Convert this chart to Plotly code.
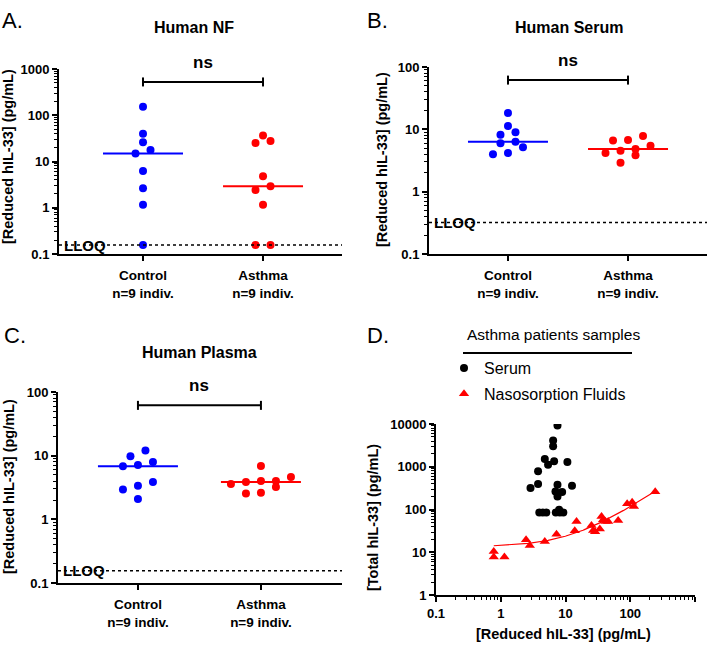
import numpy as np
import plotly.graph_objects as go

W, H = 709, 646
FONT = "Liberation Sans, Arial, sans-serif"
BLUE = "#0000FF"
RED = "#FF0000"

# ---------------- data ----------------
categories = ["Control", "Asthma"]
n_labels = ["n=9 indiv.", "n=9 indiv."]
panel_titles = ["Human NF", "Human Serum", "Human Plasma"]
panel_letters = ["A.", "B.", "C.", "D."]
sig_label = "ns"
lloq_label = "LLOQ"

ticks_nf = [0.1, 1, 10, 100, 1000]
ticks_nf_text = ["0.1", "1", "10", "100", "1000"]
ticks_100 = [0.1, 1, 10, 100]
ticks_100_text = ["0.1", "1", "10", "100"]
ticks_d_x = [0.1, 1, 10, 100, 1000]
ticks_d_x_text = ["0.1", "1", "10", "100", "1000"]
ticks_d_y = [1, 10, 100, 1000, 10000]
ticks_d_y_text = ["1", "10", "100", "1000", "10000"]

nf_control = [153, 40, 26, 17.8, 14.9, 6.2, 2.64, 1.16, 0.156]
nf_asthma = [36.7, 27.7, 25, 4.77, 2.91, 2.43, 1.16, 0.156, 0.156]
serum_control = [18.3, 11.3, 8.95, 8.2, 6.3, 5.96, 5.14, 4.17, 3.98]
serum_asthma = [7.8, 6.74, 6.6, 5.47, 4.83, 4.55, 4.17, 3.83, 2.92]
plasma_control = [12.1, 9.8, 7.95, 7.13, 6.8, 3.85, 3.37, 2.95, 2.08]
plasma_asthma = [6.88, 4.62, 3.99, 3.99, 3.85, 3.58, 3.21, 2.61, 2.55]

lloq_nf = 0.156
lloq_serum = 0.32
lloq_plasma = 0.156

# Panel D: asthma patients, reduced vs total hIL-33
d_legend_title = "Asthma patients samples"
d_serum_name = "Serum"
d_naso_name = "Nasosorption Fluids"
d_serum_reduced = [7.52, 6.44, 6.44, 4.79, 6.67, 5.38, 10.7, 3.77, 3.77, 2.88, 12.6,
                   7.52, 7.0, 8.87, 7.52, 7.97, 3.94, 4.46, 5.05, 7.08, 8.17, 9.25]
d_serum_total = [9230, 4110, 3020, 1530, 1345, 1125, 1303, 785, 398, 321, 363,
                 383, 267, 258, 204, 99.5, 86, 86, 86, 86, 86, 86]
d_naso_reduced = [0.78, 0.78, 1.14, 2.46, 2.81, 4.79, 7.26, 14.8, 13.9, 25.2, 26.7,
                  28.7, 33.9, 36, 38.1, 41.5, 45.6, 65, 89.6, 107, 114, 243]
d_naso_total = [10.5, 7.8, 7.8, 19.7, 14.5, 18, 26.8, 53, 32, 42.7, 32.6,
                30.4, 35.2, 69, 58, 53, 53, 55.8, 137, 148, 119, 262]

y_title_reduced = "[Reduced hIL-33] (pg/mL)"
y_title_total = "[Total hIL-33] (pg/mL)"

# ---------------- layout geometry (pixels) ----------------
def xdom(a, b):
    return [a / W, b / W]

def ydom(top, bottom):
    return [1 - bottom / H, 1 - top / H]

panels = [
    dict(ax="", xd=(59, 342), yd=(69, 254), xr=(-0.70, 1.658), yr=(-1, 3),
         ctrl=nf_control, asth=nf_asthma, lloq=lloq_nf, ticks=(ticks_nf, ticks_nf_text)),
    dict(ax="2", xd=(429, 707), yd=(67, 254), xr=(-0.658, 1.658), yr=(-1, 2),
         ctrl=serum_control, asth=serum_asthma, lloq=lloq_serum, ticks=(ticks_100, ticks_100_text)),
    dict(ax="3", xd=(58, 342), yd=(392, 583), xr=(-0.65, 1.659), yr=(-1, 2),
         ctrl=plasma_control, asth=plasma_asthma, lloq=lloq_plasma, ticks=(ticks_100, ticks_100_text)),
]


def swarm_offsets(vals, px_per_decade, px_per_unit, row_px=7.5, step_px=15.0):
    v = np.asarray(vals, float)
    pos = np.log10(v) * px_per_decade
    order = np.argsort(pos, kind="stable")
    rows, cur = [], []
    for i in order:
        if cur and pos[i] - pos[cur[0]] > row_px:
            rows.append(cur)
            cur = []
        cur.append(i)
    rows.append(cur)
    off = np.zeros(len(v))
    for row in rows:
        n = len(row)
        for k, i in enumerate(row):
            off[i] = (k - (n - 1) / 2) * step_px / px_per_unit
    return off


def minor_log(lo, hi):
    out = []
    for e in range(lo, hi):
        for k in range(2, 10):
            out.append(k * 10.0 ** e)
    return out


fig = go.Figure()
shapes = []
annotations = []

bold_tick = dict(family=FONT, size=13, color="black", weight="bold")
bold_cat = dict(family=FONT, size=13.5, color="black", weight="bold")

for p, title in zip(panels, panel_titles):
    ax = p["ax"]
    xa, ya = "x" + ax, "y" + ax
    wpx = p["xd"][1] - p["xd"][0]
    hpx = p["yd"][1] - p["yd"][0]
    ppu = wpx / (p["xr"][1] - p["xr"][0])
    ppd = hpx / (p["yr"][1] - p["yr"][0])
    for ci, (vals, col) in enumerate([(p["ctrl"], BLUE), (p["asth"], RED)]):
        off = swarm_offsets(vals, ppd, ppu)
        fig.add_trace(go.Scatter(
            x=ci + off, y=vals, mode="markers", xaxis=xa, yaxis=ya, showlegend=False,
            marker=dict(symbol="circle", size=8, color=col, line=dict(width=0))))
        med = float(np.median(vals))
        half = 40 / ppu
        fig.add_trace(go.Scatter(
            x=[ci - half, ci + half], y=[med, med], mode="lines", xaxis=xa, yaxis=ya,
            showlegend=False, line=dict(color=col, width=2)))

    axis_key = "xaxis" + ax
    yaxis_key = "yaxis" + ax
    tv, tt = p["ticks"]
    fig.update_layout(**{
        axis_key: dict(domain=xdom(*p["xd"]), range=list(p["xr"]), anchor=ya, automargin=False,
                       tickmode="array", tickvals=[0, 1],
                       ticktext=[f"{c}<br>{n}" for c, n in zip(categories, n_labels)],
                       ticks="outside", ticklen=5, tickwidth=2, tickcolor="black",
                       ticklabelstandoff=3,
                       showline=True, linewidth=2, linecolor="black",
                       showgrid=False, zeroline=False, tickfont=bold_cat),
        yaxis_key: dict(domain=ydom(*p["yd"]), type="log", range=list(p["yr"]), anchor=xa,
                        automargin=False,
                        tickmode="array", tickvals=tv, ticktext=tt,
                        ticks="outside", ticklen=5, tickwidth=2, tickcolor="black",
                        minor=dict(tickmode="array",
                                   tickvals=minor_log(p["yr"][0], p["yr"][1]),
                                   ticks="outside", ticklen=3, tickwidth=1.2,
                                   tickcolor="black", showgrid=False),
                        showline=True, linewidth=2, linecolor="black",
                        showgrid=False, zeroline=False, tickfont=bold_tick),
    })

    # LLOQ line and label
    shapes.append(dict(type="line", xref=xa + " domain", yref=ya, x0=0, x1=1,
                       y0=p["lloq"], y1=p["lloq"], layer="above",
                       line=dict(color="black", width=1.5, dash="dot")))
    annotations.append(dict(xref=xa + " domain", yref=ya, x=0, y=np.log10(p["lloq"]),
                            xanchor="left", yanchor="middle", xshift=3, showarrow=False,
                            text=lloq_label,
                            font=dict(family=FONT, size=15, color="black", weight="bold")))
    # significance bracket
    yb, cap = 0.93, 4.5 / hpx
    shapes.append(dict(type="line", xref=xa, yref=ya + " domain", x0=0, x1=1, y0=yb, y1=yb,
                       line=dict(color="black", width=2)))
    for xx in (0, 1):
        shapes.append(dict(type="line", xref=xa, yref=ya + " domain", x0=xx, x1=xx,
                           y0=yb - cap, y1=yb + cap, line=dict(color="black", width=2)))
    annotations.append(dict(xref=xa, yref=ya + " domain", x=0.5, y=1.035, showarrow=False,
                            xanchor="center", yanchor="middle", text=sig_label,
                            font=dict(family=FONT, size=17, color="black", weight="bold")))

# panel titles / axis titles for A-C
title_pos = [(194, 27), (569, 27), (199, 352)]
ytitle_pos = [(8, 157), (382, 160), (9, 487)]
for t, (tx, ty), (yx, yy) in zip(panel_titles, title_pos, ytitle_pos):
    annotations.append(dict(xref="paper", yref="paper", x=tx / W, y=1 - ty / H, showarrow=False,
                            xanchor="center", yanchor="middle", text=t,
                            font=dict(family=FONT, size=16, color="black", weight="bold")))
    annotations.append(dict(xref="paper", yref="paper", x=yx / W, y=1 - yy / H, showarrow=False,
                            xanchor="center", yanchor="middle", text=y_title_reduced, textangle=-90,
                            font=dict(family=FONT, size=14.5, color="black", weight="bold")))

# panel letters
for letter, (lx, ly) in zip(panel_letters, [(0, 20), (365, 20), (2, 335), (365, 335)]):
    annotations.append(dict(xref="paper", yref="paper", x=lx / W, y=1 - ly / H, showarrow=False,
                            xanchor="left", yanchor="middle", text=letter,
                            font=dict(family=FONT, size=22, color="black")))

# ---------------- panel D ----------------
fig.add_trace(go.Scatter(x=d_serum_reduced, y=d_serum_total, mode="markers", name=d_serum_name,
                         xaxis="x4", yaxis="y4", legendgroup="s",
                         marker=dict(symbol="circle", size=8, color="black")))
fig.add_trace(go.Scatter(x=d_naso_reduced, y=d_naso_total, mode="markers", name=d_naso_name,
                         xaxis="x4", yaxis="y4", legendgroup="n",
                         marker=dict(symbol="triangle-up", size=9, color=RED)))
# linear regression of nasosorption fluids (fit on linear scale)
slope, intercept = np.polyfit(d_naso_reduced, d_naso_total, 1)
xf = np.geomspace(min(d_naso_reduced), max(d_naso_reduced), 200)
fig.add_trace(go.Scatter(x=xf, y=intercept + slope * xf, mode="lines", xaxis="x4", yaxis="y4",
                         showlegend=False, line=dict(color=RED, width=1.2)))

fig.update_layout(
    xaxis4=dict(domain=xdom(436, 695), type="log", range=[-1, 3], anchor="y4", automargin=False,
                tickmode="array", tickvals=ticks_d_x, ticktext=ticks_d_x_text,
                ticks="outside", ticklen=5, tickwidth=2, tickcolor="black",
                minor=dict(tickmode="array", tickvals=minor_log(-1, 3), ticks="outside",
                           ticklen=3, tickwidth=1.2, tickcolor="black", showgrid=False),
                showline=True, linewidth=2, linecolor="black", showgrid=False, zeroline=False,
                tickfont=bold_tick),
    yaxis4=dict(domain=ydom(424, 595.3), type="log", range=[0, 4], anchor="x4", automargin=False,
                tickmode="array", tickvals=ticks_d_y, ticktext=ticks_d_y_text,
                ticks="outside", ticklen=5, tickwidth=2, tickcolor="black",
                minor=dict(tickmode="array", tickvals=minor_log(0, 4), ticks="outside",
                           ticklen=3, tickwidth=1.2, tickcolor="black", showgrid=False),
                showline=True, linewidth=2, linecolor="black", showgrid=False, zeroline=False,
                tickfont=bold_tick),
)
annotations.append(dict(xref="paper", yref="paper", x=563 / W, y=1 - 634 / H, showarrow=False,
                        xanchor="center", yanchor="middle", text=y_title_reduced,
                        font=dict(family=FONT, size=14.5, color="black", weight="bold")))
annotations.append(dict(xref="paper", yref="paper", x=373 / W, y=1 - 517 / H, showarrow=False,
                        xanchor="center", yanchor="middle", text=y_title_total, textangle=-90,
                        font=dict(family=FONT, size=14.5, color="black", weight="bold")))
annotations.append(dict(xref="paper", yref="paper", x=553 / W, y=1 - 334 / H, showarrow=False,
                        xanchor="center", yanchor="middle", text=d_legend_title,
                        font=dict(family=FONT, size=15.5, color="black")))
shapes.append(dict(type="line", xref="paper", yref="paper", x0=463 / W, x1=632 / W,
                   y0=1 - 353 / H, y1=1 - 353 / H, line=dict(color="black", width=2)))

fig.update_layout(
    width=W, height=H, margin=dict(l=0, r=0, t=0, b=0, autoexpand=False),
    paper_bgcolor="white", plot_bgcolor="white",
    font=dict(family=FONT, color="black"),
    shapes=shapes, annotations=annotations,
    showlegend=True, hovermode=False,
    legend=dict(x=444 / W, y=1 - 351 / H, xanchor="left", yanchor="top",
                font=dict(family=FONT, size=16, color="black"),
                bgcolor="rgba(0,0,0,0)", tracegroupgap=2, itemwidth=30),
)

# place the figure at the page's top-left corner (no default body margin), no mode bar
fig.write_html("out.html", config={"displayModeBar": False},
               post_script="document.body.style.margin='0';document.body.style.overflow='hidden';")
